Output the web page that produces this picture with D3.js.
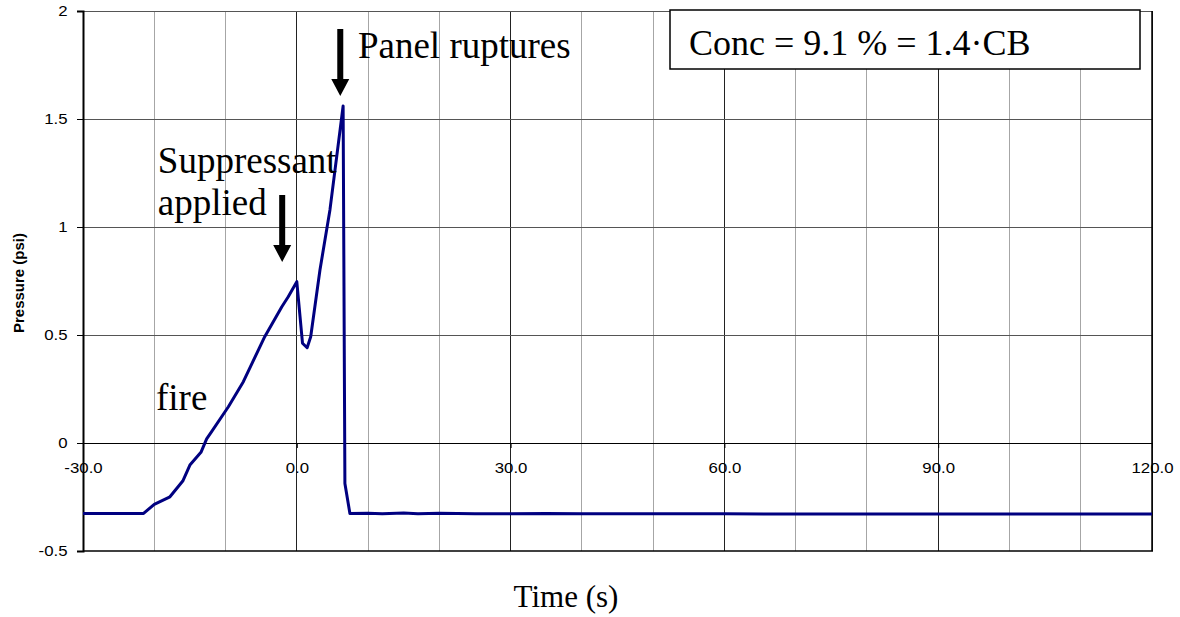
<!DOCTYPE html>
<html>
<head>
<meta charset="utf-8">
<script src="https://cdn.jsdelivr.net/npm/d3@7"></script>
<style>
  html, body { margin: 0; padding: 0; background: #fff; }
  svg { display: block; }
</style>
</head>
<body>
<svg id="chart" width="1180" height="617"></svg>
<script>
// ---- data ----
const timeS = [-30, -21.5, -20, -17.8, -16.0, -15.0, -13.45, -12.65, -12.0, -9.6, -7.5, -4.5, -2.1, -1.2, 0.0, 0.8, 1.45, 1.95, 3.25, 4.65, 6.5, 6.75, 7.45, 10, 12, 15, 17, 20, 25, 30, 35, 40, 60, 80, 100, 120];
const pressurePsi = [-0.326, -0.326, -0.284, -0.249, -0.176, -0.102, -0.043, 0.019, 0.05, 0.168, 0.284, 0.492, 0.631, 0.677, 0.747, 0.462, 0.441, 0.492, 0.801, 1.079, 1.56, -0.187, -0.326, -0.325, -0.327, -0.324, -0.327, -0.325, -0.327, -0.328, -0.326, -0.328, -0.328, -0.329, -0.329, -0.329];
const xMajorTicks = [-30, 0, 30, 60, 90, 120];
const xMinorTicks = [-20, -10, 10, 20, 40, 50, 70, 80, 100, 110];
const yTicks = [-0.5, 0, 0.5, 1, 1.5, 2];
const annotations = [
  { lines: ["Panel ruptures"], t: 8.58, p: 1.782 },
  { lines: ["Suppressant", "applied"], t: -19.5, p: 1.25 },
  { lines: ["fire"], t: -19.76, p: 0.153 }
];
const arrows = [
  { t: 6.1, top: 1.917, tip: 1.606 },
  { t: -2.05, top: 1.148, tip: 0.838 }
];
const concLabel = "Conc = 9.1 % = 1.4·CB";
const xTitle = "Time (s)";
const yTitle = "Pressure (psi)";

// ---- layout ----
const L = 83, R = 1152, T = 11, B = 551;
const svg = d3.select("#chart");
const x = d3.scaleLinear().domain([-30, 120]).range([L, R]);
const y = d3.scaleLinear().domain([-0.5, 2]).range([B, T]);
const hyph = s => String(s).replace("\u2212", "-");
const stretch = 1.2;

// gridlines
const grid = svg.append("g");
grid.selectAll("line.vmin").data(xMinorTicks).join("line")
  .attr("x1", d => x(d)).attr("x2", d => x(d)).attr("y1", T).attr("y2", B)
  .attr("stroke", "#a6a6a6").attr("stroke-width", 1).attr("shape-rendering", "crispEdges");
grid.selectAll("line.vmaj").data(xMajorTicks.slice(1)).join("line")
  .attr("x1", d => x(d)).attr("x2", d => x(d)).attr("y1", T).attr("y2", B)
  .attr("stroke", "#222").attr("stroke-width", 1).attr("shape-rendering", "crispEdges");
grid.selectAll("line.h").data(yTicks.filter(d => d > -0.5)).join("line")
  .attr("x1", L).attr("x2", R).attr("y1", d => y(d)).attr("y2", d => y(d))
  .attr("stroke", d => d === 0 ? "#000" : "#555").attr("stroke-width", 1).attr("shape-rendering", "crispEdges");

// plot border (bottom & right)
svg.append("line").attr("x1", L).attr("x2", R + 1).attr("y1", y(-0.5)).attr("y2", y(-0.5))
  .attr("stroke", "#000").attr("stroke-width", 1.5);
svg.append("line").attr("x1", R).attr("x2", R).attr("y1", T).attr("y2", B)
  .attr("stroke", "#000").attr("stroke-width", 1.5);

// y axis
const yAxis = d3.axisLeft(y).tickValues(yTicks).tickSize(6).tickPadding(9)
  .tickFormat(d => hyph(d3.format("")(d)));
const yg = svg.append("g").attr("transform", `translate(${L},0)`).call(yAxis);
yg.select(".domain").attr("stroke", "#000").attr("stroke-width", 2);
yg.selectAll(".tick line").attr("stroke", "#000");
yg.selectAll(".tick text").attr("font-family", "Liberation Sans, Arial, sans-serif")
  .attr("font-size", 14).attr("fill", "#000")
  .attr("x", -15.5 / stretch).attr("transform", `scale(${stretch},1)`);

// x axis at y = 0
const xAxis = d3.axisBottom(x).tickValues(xMajorTicks).tickSize(5).tickPadding(15)
  .tickFormat(d => hyph(d3.format(".1f")(d)));
const xg = svg.append("g").attr("transform", `translate(0,${y(0)})`).call(xAxis);
xg.select(".domain").remove();
xg.selectAll(".tick line").attr("stroke", "#000");
xg.selectAll(".tick text").attr("font-family", "Liberation Sans, Arial, sans-serif")
  .attr("font-size", 14).attr("fill", "#000").attr("transform", `scale(${stretch},1)`);

// series
const line = d3.line().x((d, i) => x(timeS[i])).y(d => y(d));
svg.append("path").datum(pressurePsi)
  .attr("d", line).attr("fill", "none").attr("stroke", "#000080")
  .attr("stroke-width", 3).attr("stroke-linejoin", "round");

// annotations
const serif = "Liberation Serif, Times New Roman, serif";
annotations.forEach(a => {
  const txt = svg.append("text").attr("x", x(a.t)).attr("y", y(a.p))
    .attr("font-family", serif).attr("font-size", 37).attr("fill", "#000");
  a.lines.forEach((s, i) => {
    txt.append("tspan").attr("x", x(a.t)).attr("dy", i === 0 ? 0 : 42).text(s);
  });
});
// arrows
arrows.forEach(a => {
  const px = x(a.t), yTop = y(a.top), yTip = y(a.tip);
  const headH = 17, headW = 9, shaftW = 3;
  const yBase = yTip - headH;
  svg.append("path")
    .attr("d", `M${px - shaftW},${yTop} L${px + shaftW},${yTop} L${px + shaftW},${yBase} L${px + headW},${yBase} L${px},${yTip} L${px - headW},${yBase} L${px - shaftW},${yBase} Z`)
    .attr("fill", "#000");
});

// conc box
svg.append("rect").attr("x", 670).attr("y", 10).attr("width", 470).attr("height", 59)
  .attr("fill", "#fff").attr("stroke", "#000").attr("stroke-width", 1.5);
svg.append("text").attr("x", 689).attr("y", 55)
  .attr("font-family", serif).attr("font-size", 36).attr("fill", "#000").text(concLabel);

// axis titles
svg.append("text").attr("x", 566).attr("y", 607).attr("text-anchor", "middle")
  .attr("font-family", serif).attr("font-size", 31).attr("fill", "#000").text(xTitle);
svg.append("text").attr("transform", "translate(24,283) rotate(-90)").attr("text-anchor", "middle")
  .attr("font-family", "Liberation Sans, Arial, sans-serif").attr("font-weight", "bold")
  .attr("font-size", 15).attr("fill", "#000").text(yTitle);
</script>
</body>
</html>
